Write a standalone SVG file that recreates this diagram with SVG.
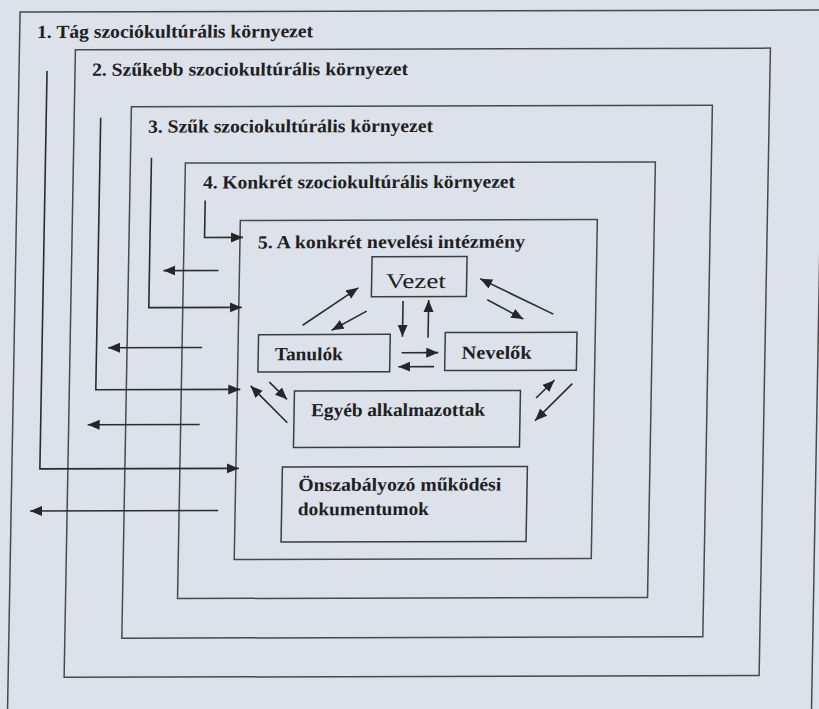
<svg xmlns="http://www.w3.org/2000/svg" width="819" height="709" viewBox="0 0 819 709">
<defs>
<marker id="ah" markerUnits="userSpaceOnUse" markerWidth="13" markerHeight="11" refX="12" refY="5" orient="auto">
<path d="M0,0 L12,5 L0,10 z" fill="#262626"/>
</marker>
<style>
.box{fill:none;stroke:#4a4a4a;stroke-width:1.5}
.node{fill:none;stroke:#3c3c3c;stroke-width:1.5}
.ar{fill:none;stroke:#2c2c2c;stroke-width:1.6;marker-end:url(#ah)}
text{font-family:'Liberation Serif','Times New Roman',serif;fill:#202020}
.t{font-weight:bold;font-size:18.5px}
.tn{font-weight:normal;font-size:21px}
</style>
</defs>
<rect width="819" height="709" fill="#dde1ea"/>
<g transform="matrix(1 -0.0025 -0.018 1 6.3 1.025)">
<g id="env1">
<rect class="box" x="14" y="11" width="804" height="705"/>
<text class="t" x="31.4" y="37" textLength="276" lengthAdjust="spacingAndGlyphs">1. Tág szociókultúrális környezet</text>
</g>
<g id="env2">
<rect class="box" x="70" y="49" width="695" height="627.5"/>
<text class="t" x="87" y="75" textLength="316" lengthAdjust="spacingAndGlyphs">2. Szűkebb szociokultúrális környezet</text>
</g>
<g id="env3">
<rect class="box" x="127" y="106" width="581" height="531.5"/>
<text class="t" x="144" y="132" textLength="285" lengthAdjust="spacingAndGlyphs">3. Szűk szociokultúrális környezet</text>
</g>
<g id="env4">
<rect class="box" x="182" y="162.5" width="470" height="435.5"/>
<text class="t" x="200" y="188" textLength="312" lengthAdjust="spacingAndGlyphs">4. Konkrét szociokultúrális környezet</text>
</g>
<g id="env5">
<rect class="box" x="238" y="220" width="357" height="339"/>
<text class="t" x="256" y="248" textLength="267" lengthAdjust="spacingAndGlyphs">5. A konkrét nevelési intézmény</text>
</g>
<g id="vezet">
<rect class="node" x="370.4" y="256.7" width="95" height="40"/>
<text class="tn" x="384.7" y="288" textLength="60" lengthAdjust="spacingAndGlyphs">Vezet</text>
</g>
<g id="tanulok">
<rect class="node" x="258.3" y="334.3" width="131.7" height="37.4"/>
<text class="t" x="275" y="360" textLength="68" lengthAdjust="spacingAndGlyphs">Tanulók</text>
</g>
<g id="nevelok">
<rect class="node" x="445" y="332.7" width="131.7" height="38"/>
<text class="t" x="461.7" y="359" textLength="70" lengthAdjust="spacingAndGlyphs">Nevelők</text>
</g>
<g id="egyeb">
<rect class="node" x="295.2" y="390.7" width="226" height="56.6"/>
<text class="t" x="312.2" y="416" textLength="174" lengthAdjust="spacingAndGlyphs">Egyéb alkalmazottak</text>
</g>
<g id="onszab">
<rect class="node" x="284.5" y="466.7" width="245" height="75"/>
<text class="t" x="300.8" y="490.7" textLength="203" lengthAdjust="spacingAndGlyphs">Önszabályozó működési</text>
<text class="t" x="300.8" y="515" textLength="131" lengthAdjust="spacingAndGlyphs">dokumentumok</text>
</g>
<g id="connectors">
<path class="ar" d="M42,70 V468 H241"/>
<path class="ar" d="M96.5,117 V389 H241"/>
<path class="ar" d="M148,157 V307 H241"/>
<path class="ar" d="M202.5,200 V237 H241"/>
<path class="ar" d="M217,270 H162"/>
<path class="ar" d="M202,347 H108"/>
<path class="ar" d="M201,424 H89"/>
<path class="ar" d="M221,510 H33"/>
<path class="ar" d="M302.2,325 L357.2,287.7"/>
<path class="ar" d="M366,311 L331.3,330"/>
<path class="ar" d="M402.2,301 V336.7"/>
<path class="ar" d="M427.8,337.7 V300"/>
<path class="ar" d="M401.7,352.7 H438.3"/>
<path class="ar" d="M434.3,366.7 H398.6"/>
<path class="ar" d="M552.7,314.5 L478.9,279"/>
<path class="ar" d="M486.4,300 L522.7,319.3"/>
<path class="ar" d="M536.9,398.3 L555,380.5"/>
<path class="ar" d="M572.9,384 L536.3,421"/>
<path class="ar" d="M269.9,381.7 L287.9,399"/>
<path class="ar" d="M288.6,422.5 L251.3,385.5"/>
</g>
</g>
</svg>
